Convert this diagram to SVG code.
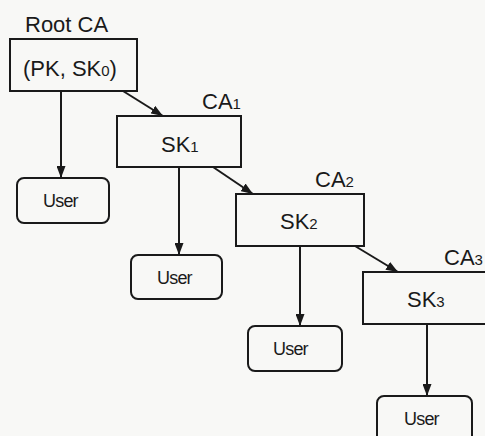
<svg xmlns="http://www.w3.org/2000/svg" width="485" height="436" viewBox="0 0 485 436">
<defs>
<marker id="ah" viewBox="0 0 12 9" refX="12" refY="4.5" markerWidth="12" markerHeight="9" markerUnits="userSpaceOnUse" orient="auto">
<path d="M0,0 L12,4.5 L0,9 Z" fill="#1a1a1a"/>
</marker>
<style>
.box{fill:#f8f8f6;stroke:#1a1a1a;stroke-width:2}
.lbl{font-family:"Liberation Sans",Arial,sans-serif;font-size:22px;fill:#1a1a1a}
.usr{font-family:"Liberation Sans",Arial,sans-serif;font-size:18px;fill:#1a1a1a;letter-spacing:-0.8px}
.sub{font-size:15px}
.con{stroke:#1a1a1a;stroke-width:2;fill:none;marker-end:url(#ah)}
</style>
</defs>
<rect width="485" height="436" fill="#f8f8f6"/>
<g id="connectors">
<line class="con" x1="123" y1="91" x2="163" y2="116"/>
<line class="con" x1="213" y1="167" x2="253" y2="194"/>
<line class="con" x1="355" y1="246" x2="398" y2="272"/>
<line class="con" x1="61" y1="91" x2="61" y2="178"/>
<line class="con" x1="179" y1="167" x2="179" y2="255"/>
<line class="con" x1="300" y1="246" x2="300" y2="326"/>
<line class="con" x1="427" y1="324" x2="427" y2="396"/>
</g>
<g id="rootca">
<text class="lbl" x="25" y="32">Root CA</text>
<rect class="box" x="10" y="39" width="127" height="52"/>
<text class="lbl" x="23" y="76">(PK, SK<tspan class="sub">0</tspan>)</text>
</g>
<g id="ca1">
<text class="lbl" x="202" y="109">CA<tspan class="sub">1</tspan></text>
<rect class="box" x="117" y="116" width="124" height="51"/>
<text class="lbl" x="161" y="152">SK<tspan class="sub">1</tspan></text>
</g>
<g id="ca2">
<text class="lbl" x="315" y="187">CA<tspan class="sub">2</tspan></text>
<rect class="box" x="236" y="194" width="128" height="52"/>
<text class="lbl" x="280" y="229">SK<tspan class="sub">2</tspan></text>
</g>
<g id="ca3">
<text class="lbl" x="444" y="265">CA<tspan class="sub">3</tspan></text>
<rect class="box" x="363" y="272" width="130" height="52"/>
<text class="lbl" x="407" y="307">SK<tspan class="sub">3</tspan></text>
</g>
<g id="user0">
<rect class="box" x="17" y="178" width="92" height="45" rx="7"/>
<text class="usr" x="43" y="207">User</text>
</g>
<g id="user1">
<rect class="box" x="131" y="255" width="91" height="44" rx="7"/>
<text class="usr" x="157" y="284">User</text>
</g>
<g id="user2">
<rect class="box" x="248" y="326" width="94" height="45" rx="7"/>
<text class="usr" x="273" y="355">User</text>
</g>
<g id="user3">
<rect class="box" x="377" y="396" width="95" height="50" rx="7"/>
<text class="usr" x="404" y="425">User</text>
</g>
</svg>
